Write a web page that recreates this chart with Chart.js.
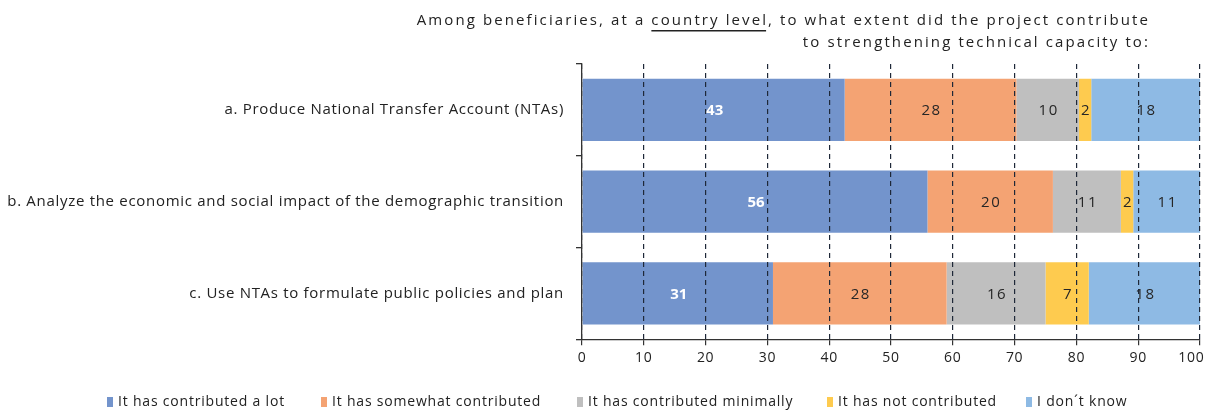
<!DOCTYPE html>
<html lang="en">
<head>
    <meta charset="UTF-8">
    <script src="https://cdn.jsdelivr.net/npm/chart.js"></script>
    <title>Technical capacity</title>
    <style>
        body {
            margin: 0;
            padding: 0;
            background-color: #fff;
        }
        #wrap {
            width: 1205px;
            height: 410px;
        }
    </style>
</head>
<body>
    <div id="wrap"><canvas id="capacityChart"></canvas></div>

    <script>
        // data (percent of beneficiaries)
        const categories = [
            'a. Produce National Transfer Account (NTAs)',
            'b. Analyze the economic and social impact of the demographic transition',
            'c. Use NTAs to formulate public policies and plan'
        ];
        const seriesNames = [
            'It has contributed a lot',
            'It has somewhat contributed',
            'It has contributed minimally',
            'It has not contributed',
            'I don\u00b4t know'
        ];
        const contributedLot = [42.5, 55.9, 30.9];
        const somewhatContributed = [27.8, 20.3, 28.1];
        const contributedMinimally = [10.1, 11.0, 16.0];
        const notContributed = [2.0, 2.0, 7.0];
        const dontKnow = [17.6, 10.8, 18.0];
        const xTicks = [0, 10, 20, 30, 40, 50, 60, 70, 80, 90, 100];

        const colors = ['#7394CC', '#F4A373', '#BFBFBF', '#FECB4F', '#8EBAE4'];
        const FONT = "'Open Sans', sans-serif";
        const SPACING = '0.7px';

        // un peu d'espacement des lettres pour les textes de Chart.js
        const spacingPlugin = {
            id: 'spacingPlugin',
            beforeUpdate(chart) { chart.ctx.letterSpacing = SPACING; },
            beforeLayout(chart) { chart.ctx.letterSpacing = SPACING; },
            beforeDraw(chart) { chart.ctx.letterSpacing = SPACING; }
        };

        // titre en haut, aligné à droite
        const titlePlugin = {
            id: 'titlePlugin',
            afterDraw(chart) {
                const ctx = chart.ctx;
                ctx.save();
                ctx.font = '15px ' + FONT;
                ctx.letterSpacing = '2.1px';
                ctx.fillStyle = '#222';
                ctx.textBaseline = 'middle';
                const right = 1150;
                const line1 = 'Among beneficiaries, at a country level, to what extent did the project contribute';
                const before = 'Among beneficiaries, at a ';
                const under = 'country level';
                const w1 = ctx.measureText(line1).width;
                const x1 = right - w1;
                ctx.textAlign = 'left';
                ctx.fillText(line1, x1, 21);
                const ux = x1 + ctx.measureText(before).width;
                const uw = ctx.measureText(under).width - 2;
                ctx.fillRect(ux, 30, uw, 1.5);
                ctx.textAlign = 'right';
                ctx.fillText('to strengthening technical capacity to:', right, 43);
                ctx.restore();
            }
        };

        // valeurs dans les barres
        const barLabels = {
            id: 'barLabels',
            afterDatasetsDraw(chart) {
                const ctx = chart.ctx;
                ctx.save();
                ctx.textAlign = 'center';
                ctx.textBaseline = 'middle';
                chart.data.datasets.forEach((ds, i) => {
                    const meta = chart.getDatasetMeta(i);
                    meta.data.forEach((bar, j) => {
                        const v = Math.round(ds.data[j]);
                        if (i === 0) {
                            ctx.font = 'bold 15px ' + FONT;
                            ctx.letterSpacing = '0px';
                            ctx.fillStyle = '#fff';
                        } else {
                            ctx.font = '15px ' + FONT;
                            ctx.letterSpacing = '1.5px';
                            ctx.fillStyle = '#262626';
                        }
                        ctx.fillText(String(v), (bar.x + bar.base) / 2 + 1, bar.y + 1);
                    });
                });
                ctx.restore();
            }
        };

        // légende en bas, petits carrés
        const bottomLegend = {
            id: 'bottomLegend',
            afterDraw(chart) {
                const ctx = chart.ctx;
                const starts = [107, 321, 577, 827, 1026];
                ctx.save();
                ctx.font = '14px ' + FONT;
                ctx.letterSpacing = '0.8px';
                ctx.textBaseline = 'middle';
                ctx.textAlign = 'left';
                chart.data.datasets.forEach((ds, i) => {
                    const x = starts[i];
                    ctx.fillStyle = ds.backgroundColor;
                    ctx.fillRect(x, 397, 6, 10);
                    ctx.fillStyle = '#222';
                    ctx.fillText(ds.label, x + 11, 402);
                });
                ctx.restore();
            }
        };

        const allSeries = [contributedLot, somewhatContributed, contributedMinimally, notContributed, dontKnow];

        new Chart(document.getElementById('capacityChart'), {
            type: 'bar',
            data: {
                labels: categories,
                datasets: allSeries.map((d, i) => ({
                    label: seriesNames[i],
                    data: d,
                    backgroundColor: colors[i],
                    borderWidth: 0,
                    categoryPercentage: 1,
                    barPercentage: 0.68
                }))
            },
            options: {
                indexAxis: 'y',
                responsive: true,
                maintainAspectRatio: false,
                animation: false,
                layout: {
                    padding: { top: 64, bottom: 40, left: 0, right: 5 }
                },
                plugins: {
                    legend: { display: false },
                    tooltip: { enabled: false }
                },
                scales: {
                    x: {
                        stacked: true,
                        min: 0,
                        max: 100,
                        afterBuildTicks(scale) {
                            scale.ticks = xTicks.map(v => ({ value: v }));
                        },
                        afterFit(scale) {
                            scale.paddingRight = 5;
                        },
                        ticks: {
                            color: '#222',
                            padding: 4,
                            z: 1,
                            font: { family: FONT, size: 14 },
                            // le dernier libellé est poussé vers la gauche pour rester visible
                            callback: v => (v === 100 ? '100    ' : String(v))
                        },
                        grid: {
                            z: 1,
                            color: '#1e2838',
                            lineWidth: 1.2,
                            tickLength: 6,
                            tickColor: '#333',
                            tickBorderDash: []
                        },
                        border: {
                            display: true,
                            z: 1,
                            color: '#333',
                            width: 1.3,
                            dash: [5, 4]
                        }
                    },
                    y: {
                        stacked: true,
                        afterFit(scale) {
                            scale.width = 582;
                        },
                        ticks: {
                            color: '#222',
                            padding: 12,
                            font: { family: FONT, size: 15 }
                        },
                        grid: {
                            z: 1,
                            offset: true,
                            drawOnChartArea: false,
                            tickLength: 6,
                            color: '#333',
                            lineWidth: 1.3
                        },
                        border: {
                            display: true,
                            z: 2,
                            color: '#333',
                            width: 1.3
                        }
                    }
                }
            },
            plugins: [spacingPlugin, titlePlugin, barLabels, bottomLegend]
        });
    </script>
</body>
</html>
